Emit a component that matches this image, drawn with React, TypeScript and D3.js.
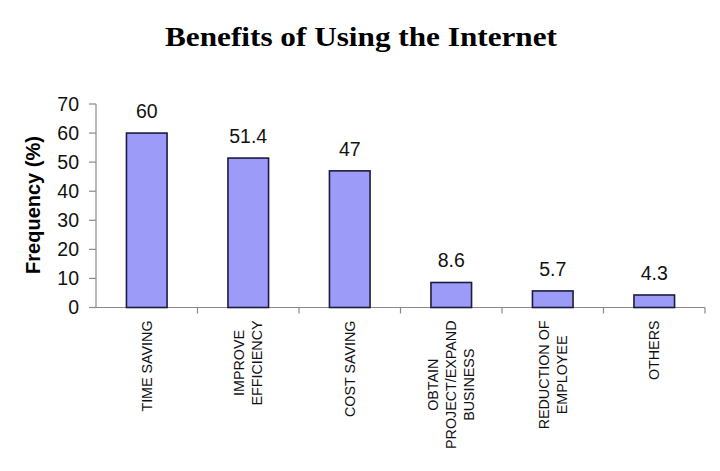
import React from "react";
import * as d3 from "d3";

const categories: string[] = [
  "TIME SAVING",
  "IMPROVE EFFICIENCY",
  "COST SAVING",
  "OBTAIN PROJECT/EXPAND BUSINESS",
  "REDUCTION OF EMPLOYEE",
  "OTHERS",
];
const categoryLines: string[][] = [
  ["TIME SAVING"],
  ["IMPROVE", "EFFICIENCY"],
  ["COST SAVING"],
  ["OBTAIN", "PROJECT/EXPAND", "BUSINESS"],
  ["REDUCTION OF", "EMPLOYEE"],
  ["OTHERS"],
];
const values: number[] = [60, 51.4, 47, 8.6, 5.7, 4.3];
const valueLabels: string[] = ["60", "51.4", "47", "8.6", "5.7", "4.3"];
const yTicks: number[] = [0, 10, 20, 30, 40, 50, 60, 70];

const W = 720;
const H = 471;
const left = 96;
const right = 705;
const top = 104;
const bottom = 307.5;

let ctx: CanvasRenderingContext2D | null = null;
function measure(text: string, font: string): number {
  if (!ctx) {
    const c = document.createElement("canvas");
    ctx = c.getContext("2d");
  }
  if (!ctx) return text.length * 8;
  ctx.font = font;
  return ctx.measureText(text).width;
}

export default function App() {
  const x = d3
    .scaleBand<string>()
    .domain(categories)
    .range([left, right])
    .paddingInner(0.6)
    .paddingOuter(0.3);
  const xs = d3.scaleBand<string>().domain(categories).range([left, right]).padding(0);
  const y = d3.scaleLinear().domain([0, 70]).range([bottom, top]);
  const axisColor = "#8a8a8a";
  const labelFont = "14.3px Arial";
  const lineGap = 17.8;
  const labelTop = 320.5;

  return (
    <svg
      width={W}
      height={H}
      style={{ position: "absolute", left: 0, top: 0, background: "#fff" }}
      fontFamily="Arial, 'Liberation Sans', sans-serif"
    >
      <rect x={0} y={0} width={W} height={H} fill="#fff" />
      <text
        x={361}
        y={46}
        textAnchor="middle"
        fontFamily="'Times New Roman', 'Liberation Serif', serif"
        fontWeight="bold"
        fontSize={28}
        textLength={392}
        lengthAdjust="spacingAndGlyphs"
        fill="#000"
      >
        Benefits of Using the Internet
      </text>
      <text
        transform={`translate(40,205) rotate(-90)`}
        textAnchor="middle"
        fontWeight="bold"
        fontSize={20}
        fill="#000"
      >
        Frequency (%)
      </text>
      {/* y axis */}
      <line x1={left} x2={left} y1={top} y2={bottom} stroke={axisColor} strokeWidth={1.2} />
      {yTicks.map((t) => (
        <g key={t}>
          <line x1={left - 7} x2={left} y1={y(t)} y2={y(t)} stroke={axisColor} strokeWidth={1.2} />
          <text
            x={79}
            y={y(t)}
            dy="0.35em"
            textAnchor="end"
            fontSize={19.5}
            fill="#111"
          >
            {t}
          </text>
        </g>
      ))}
      {/* x axis */}
      <line x1={left} x2={right} y1={bottom} y2={bottom} stroke={axisColor} strokeWidth={1.2} />
      {categories.map((c, i) => (
        <line
          key={"t" + i}
          x1={(xs(c) as number) + xs.bandwidth()}
          x2={(xs(c) as number) + xs.bandwidth()}
          y1={bottom}
          y2={bottom + 6}
          stroke={axisColor}
          strokeWidth={1.2}
        />
      ))}
      {/* bars */}
      {categories.map((c, i) => (
        <g key={"b" + i}>
          <rect
            x={x(c) as number}
            y={y(values[i])}
            width={x.bandwidth()}
            height={bottom - y(values[i])}
            fill="#9C9CF8"
            stroke="#1b1b40"
            strokeWidth={1.6}
          />
          <text
            x={(x(c) as number) + x.bandwidth() / 2}
            y={y(values[i]) - 15}
            textAnchor="middle"
            fontSize={19.5}
            fill="#111"
          >
            {valueLabels[i]}
          </text>
        </g>
      ))}
      {/* category labels */}
      {categories.map((c, i) => {
        const lines = categoryLines[i];
        const cx = (xs(c) as number) + xs.bandwidth() / 2;
        const maxW = Math.max(...lines.map((l) => measure(l, labelFont)));
        return (
          <g key={"l" + i}>
            {lines.map((l, j) => {
              const lx = cx + (j - (lines.length - 1) / 2) * lineGap;
              return (
                <text
                  key={j}
                  transform={`translate(${lx},${labelTop + maxW / 2}) rotate(-90)`}
                  textAnchor="middle"
                  dominantBaseline="central"
                  fontSize={14.3}
                  fill="#111"
                >
                  {l}
                </text>
              );
            })}
          </g>
        );
      })}
    </svg>
  );
}
